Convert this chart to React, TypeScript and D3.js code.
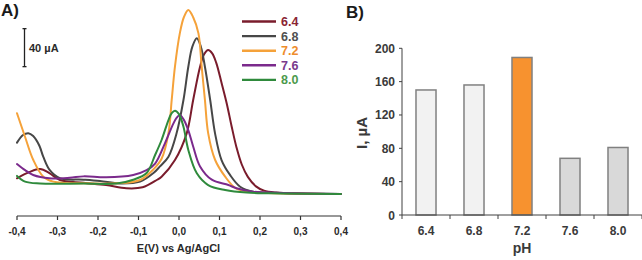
import React from 'react';
import * as d3 from 'd3';

// ---- Panel A: differential pulse voltammograms, current (µA) vs potential (V) ----
const curve64: [number, number][] = [
  [-0.4, 15.5], [-0.37, 22], [-0.343, 25.3], [-0.32, 21], [-0.294, 13.7], [-0.236, 10.8],
  [-0.18, 8.4], [-0.13, 5], [-0.09, 6], [-0.055, 13.7], [-0.043, 17.2], [-0.01, 34.7],
  [0.019, 62.8], [0.035, 97.9], [0.052, 132.9], [0.062, 146], [0.072, 150.5], [0.082, 147],
  [0.092, 137], [0.105, 116], [0.118, 94], [0.13, 70], [0.142, 48], [0.155, 30], [0.17, 17],
  [0.19, 7], [0.21, 2.5], [0.24, 0.5], [0.3, -0.5], [0.4, -1],
];
const curve68: [number, number][] = [
  [-0.4, 53], [-0.385, 61], [-0.372, 63], [-0.36, 60], [-0.345, 50], [-0.335, 38], [-0.319, 24],
  [-0.294, 15.5], [-0.236, 14], [-0.195, 12.6], [-0.146, 10], [-0.096, 12], [-0.063, 21],
  [-0.047, 28], [-0.026, 38.2], [-0.006, 62.8], [0.011, 97.9], [0.023, 132.9], [0.033, 154],
  [0.044, 162.8], [0.054, 154], [0.064, 132.9], [0.077, 97.9], [0.089, 62.8], [0.105, 34.7],
  [0.126, 19], [0.151, 6.6], [0.183, 1.4], [0.25, 0], [0.4, -1],
];
const curve72: [number, number][] = [
  [-0.4, 84], [-0.38, 59], [-0.36, 35], [-0.335, 17.2], [-0.31, 12], [-0.236, 10.2], [-0.154, 10.2],
  [-0.096, 13.7], [-0.063, 25], [-0.043, 36], [-0.026, 63], [-0.018, 98], [-0.01, 133], [0.002, 168],
  [0.012, 185], [0.023, 192.6], [0.035, 185], [0.048, 168], [0.056, 133], [0.064, 98], [0.072, 63],
  [0.089, 35], [0.114, 17.2], [0.14, 5], [0.17, 1.5], [0.22, 0], [0.4, -1],
];
const curve76: [number, number][] = [
  [-0.4, 30.5], [-0.38, 24], [-0.36, 19], [-0.32, 15.5], [-0.27, 16], [-0.236, 17.5], [-0.18, 16.5],
  [-0.113, 19], [-0.08, 24], [-0.059, 31], [-0.035, 52], [-0.014, 73], [-0.006, 79], [0.002, 82],
  [0.012, 77], [0.023, 66], [0.035, 49], [0.052, 28], [0.081, 14], [0.122, 8.4], [0.142, 5],
  [0.183, 1.4], [0.257, 0], [0.4, -1],
];
const curve80: [number, number][] = [
  [-0.4, 18], [-0.38, 12], [-0.343, 10], [-0.236, 10], [-0.154, 10], [-0.113, 14], [-0.08, 21],
  [-0.059, 40], [-0.043, 55.8], [-0.026, 76.8], [-0.018, 84], [-0.01, 86.6], [0.0, 83],
  [0.011, 69.8], [0.023, 45.3], [0.044, 20.7], [0.072, 8.4], [0.114, 3.2], [0.167, 0.5],
  [0.25, -0.5], [0.4, -1],
];

const seriesLabels = ['6.4', '6.8', '7.2', '7.6', '8.0'];
const seriesCurves = [curve64, curve68, curve72, curve76, curve80];
const lineColors = ['#7a1c2c', '#474747', '#f5a23a', '#7b2a8c', '#2f8a3c'];
const labelColors = ['#8a2434', '#505050', '#ee8c2c', '#7a3a8c', '#4c9a4c'];
const potentialTicks = [-0.4, -0.3, -0.2, -0.1, 0, 0.1, 0.2, 0.3, 0.4];

// ---- Panel B: peak current by pH ----
const phCategories = ['6.4', '6.8', '7.2', '7.6', '8.0'];
const peakCurrents = [150, 156, 189, 68, 81];
const barFills = ['#f2f2f2', '#f2f2f2', '#f7922f', '#d9d9d9', '#d9d9d9'];
const currentTicks = [0, 40, 80, 120, 160, 200];

const FONT = '"Liberation Sans", Arial, sans-serif';

export default function App() {
  // Panel A scales
  const xA = d3.scaleLinear().domain([-0.4, 0.4]).range([17, 341]);
  const yA = d3.scaleLinear().domain([0, 200]).range([193, 3]);
  const line = d3
    .line<[number, number]>()
    .x((d) => xA(d[0]))
    .y((d) => yA(d[1]))
    .curve(d3.curveCatmullRom.alpha(0.5));
  const axisYA = 216;
  const fmtE = (v: number) => v.toFixed(1).replace('.', ',');

  // 40 µA scale bar
  const barX = 24.5;
  const barBottom = yA(133);
  const barTop = yA(133 + 40);

  // Panel B scales
  const xB = d3.scaleBand<string>().domain(phCategories).range([402, 642]).paddingInner(0.583).paddingOuter(0.2915);
  const yB = d3.scaleLinear().domain([0, 200]).range([215, 48.3]);
  const stepB = xB.step();
  const [b0] = xB.range();

  return (
    <svg
      width={642}
      height={260}
      style={{ position: 'absolute', left: 0, top: 0, background: '#fff' }}
      fontFamily={FONT}
    >
      {/* ---------- Panel A ---------- */}
      <text x={1} y={16} fontSize={17} fontWeight="bold" fill="#1a1a1a">A)</text>

      {/* scale bar */}
      <g stroke="#222" strokeWidth={1.3}>
        <line x1={barX} x2={barX} y1={barTop} y2={barBottom} />
        <line x1={barX - 2} x2={barX + 2} y1={barTop} y2={barTop} />
        <line x1={barX - 2} x2={barX + 2} y1={barBottom} y2={barBottom} />
      </g>
      <text x={29} y={(barTop + barBottom) / 2 + 4} fontSize={11} fontWeight="bold" fill="#2a2a2a">40 µA</text>

      {/* curves */}
      {seriesCurves.map((c, i) => (
        <path key={seriesLabels[i]} d={line(c) || ''} fill="none" stroke={lineColors[i]} strokeWidth={2} strokeLinecap="round" />
      ))}

      {/* legend */}
      {seriesLabels.map((lab, i) => {
        const ly = 21.5 + i * 14.6;
        return (
          <g key={lab}>
            <line x1={242} x2={276} y1={ly} y2={ly} stroke={lineColors[i]} strokeWidth={2.4} />
            <text x={281} y={ly + 4.5} fontSize={12.5} fontWeight="bold" fill={labelColors[i]}>{lab}</text>
          </g>
        );
      })}

      {/* x axis */}
      <line x1={xA(-0.4)} x2={xA(0.4)} y1={axisYA} y2={axisYA} stroke="#333" strokeWidth={1.2} />
      {potentialTicks.map((t) => (
        <g key={t}>
          <line x1={xA(t)} x2={xA(t)} y1={axisYA} y2={axisYA + 4} stroke="#333" strokeWidth={1.2} />
          <text x={xA(t)} y={axisYA + 19} fontSize={10} fontWeight="bold" textAnchor="middle" fill="#2a2a2a">
            {fmtE(t)}
          </text>
        </g>
      ))}
      <text x={178.5} y={252} fontSize={11} fontWeight="bold" textAnchor="middle" fill="#2a2a2a">E(V) vs Ag/AgCl</text>

      {/* ---------- Panel B ---------- */}
      <text x={346} y={18} fontSize={17} fontWeight="bold" fill="#1a1a1a">B)</text>

      {phCategories.map((c, i) => (
        <rect
          key={c}
          x={xB(c)}
          y={yB(peakCurrents[i])}
          width={xB.bandwidth()}
          height={yB(0) - yB(peakCurrents[i])}
          fill={barFills[i]}
          stroke="#808080"
          strokeWidth={1.5}
        />
      ))}

      {/* y axis */}
      <line x1={402} x2={402} y1={yB(200)} y2={yB(0)} stroke="#404040" strokeWidth={1} />
      {currentTicks.map((t) => (
        <g key={t}>
          <line x1={399} x2={402} y1={yB(t)} y2={yB(t)} stroke="#404040" strokeWidth={1} />
          <text x={395} y={yB(t) + 4.5} fontSize={12} fontWeight="bold" textAnchor="end" fill="#3a3a3a">{t}</text>
        </g>
      ))}
      <text
        transform={`translate(367,133) rotate(-90)`}
        fontSize={15}
        fontWeight="bold"
        textAnchor="middle"
        fill="#3a3a3a"
      >
        I, µA
      </text>

      {/* x axis */}
      <line x1={402} x2={642} y1={yB(0)} y2={yB(0)} stroke="#404040" strokeWidth={1} />
      {d3.range(phCategories.length + 1).map((i) => (
        <line key={i} x1={b0 + i * stepB} x2={b0 + i * stepB} y1={yB(0)} y2={yB(0) + 4} stroke="#404040" strokeWidth={1} />
      ))}
      {phCategories.map((c) => (
        <text key={c} x={(xB(c) || 0) + xB.bandwidth() / 2} y={235} fontSize={12} fontWeight="bold" textAnchor="middle" fill="#3a3a3a">
          {c}
        </text>
      ))}
      <text x={522} y={253} fontSize={14} fontWeight="bold" textAnchor="middle" fill="#3a3a3a">pH</text>
    </svg>
  );
}
